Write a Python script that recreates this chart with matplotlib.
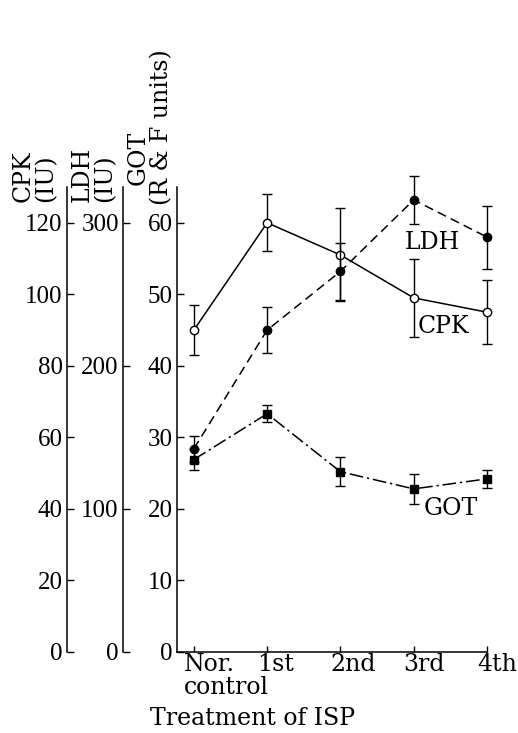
import numpy as np
import matplotlib
matplotlib.use('Agg')
import matplotlib.pyplot as plt
import matplotlib.transforms as mtransforms

# Data
cats = ['Nor.\ncontrol', '1st', '2nd', '3rd', '4th']
cpk = [90, 120, 111, 99, 95]          # IU
cpk_err = [7, 8, 13, 11, 9]
ldh = [142, 225, 266, 316, 290]       # IU
ldh_err = [9, 16, 20, 17, 22]
got = [26.9, 33.3, 25.2, 22.8, 24.2]  # R & F units
got_err = [1.5, 1.2, 2.0, 2.1, 1.3]

cpk_ticks = [0, 20, 40, 60, 80, 100, 120]
ldh_ticks = [0, 100, 200, 300]
got_ticks = [0, 10, 20, 30, 40, 50, 60]

word_font = 'DejaVu Serif'
num_font = 'Liberation Serif'
wsize = 17

W, H = 518, 733
fig = plt.figure(figsize=(W / 100, H / 100), dpi=100)

bottom = (H - 652) / H
top = (H - 187) / H
height = top - bottom
left = 177 / W
width = (487 - 177) / W

x = np.arange(len(cats))

# main (GOT) axes
ax = fig.add_axes([left, bottom, width, height])
ax.set_xlim(-0.23, 4)
ax.set_ylim(0, 65)
for s in ['top', 'right']:
    ax.spines[s].set_visible(False)
for s in ['left', 'bottom']:
    ax.spines[s].set_linewidth(1.1)
ax.set_yticks(got_ticks)
ax.set_yticklabels([str(t) for t in got_ticks], fontfamily=num_font, fontsize=18)
ax.tick_params(axis='y', direction='in', length=5, width=1, pad=3)

# first line of each category as tick label, second line (if any) as its own text
ax.set_xticks(x)
ax.set_xticklabels([c.split('\n')[0] for c in cats], fontfamily=word_font,
                   fontsize=wsize, ha='left')
ax.tick_params(axis='x', direction='in', length=4, width=1, pad=1)
offset = mtransforms.ScaledTranslation(-10 / 100, 0, fig.dpi_scale_trans)
for lab in ax.get_xticklabels():
    lab.set_transform(lab.get_transform() + offset)
xtrans = ax.get_xaxis_transform() + offset
for i, c in enumerate(cats):
    parts = c.split('\n')
    if len(parts) > 1:
        ax.text(i, -0.052, parts[1], transform=xtrans, ha='left', va='top',
                fontfamily=word_font, fontsize=wsize)

ax.set_xlabel('Treatment of ISP', fontfamily=word_font, fontsize=wsize, ha='left', va='top')
ax.xaxis.set_label_coords((150 - 177) / (487 - 177), -0.118)

ax.errorbar(x, got, yerr=got_err, color='black', lw=1.1, ls=(0, (9, 2.5, 1.5, 2.5)),
            marker='s', ms=5.5, mfc='black', mec='black', capsize=3.5, elinewidth=1,
            capthick=1, ecolor='black', clip_on=False, zorder=3)

# CPK and LDH drawn on their own scales over the same area
ax_c = ax.twinx()
ax_c.set_ylim(0, 130)
ax_c.axis('off')
ax_c.errorbar(x, cpk, yerr=cpk_err, color='black', lw=1.1, ls='-',
              marker='o', ms=6, mfc='white', mec='black', mew=1, capsize=3.5,
              elinewidth=1, capthick=1, ecolor='black', clip_on=False, zorder=4)

ax_l = ax.twinx()
ax_l.set_ylim(0, 325)
ax_l.axis('off')
ax_l.errorbar(x, ldh, yerr=ldh_err, color='black', lw=1.1, ls=(0, (6, 3.5)),
              marker='o', ms=6, mfc='black', mec='black', capsize=3.5,
              elinewidth=1, capthick=1, ecolor='black', clip_on=False, zorder=3)

ax.text(2.88, 57.2, 'LDH', fontfamily=word_font, fontsize=wsize, ha='left', va='center')
ax.text(3.06, 45.5, 'CPK', fontfamily=word_font, fontsize=wsize, ha='left', va='center')
ax.text(3.13, 20.1, 'GOT', fontfamily=word_font, fontsize=wsize, ha='left', va='center')


def side_axis(xpix, ymax, ticks):
    a = fig.add_axes([xpix / W, bottom, 1e-4, height])
    a.set_ylim(0, ymax)
    for s in ['top', 'right', 'bottom']:
        a.spines[s].set_visible(False)
    a.spines['left'].set_linewidth(1.1)
    a.set_xticks([])
    a.set_yticks(ticks)
    a.set_yticklabels([str(t) for t in ticks], fontfamily=num_font, fontsize=18)
    a.tick_params(axis='y', direction='in', length=5, width=1, pad=3)
    a.patch.set_visible(False)
    return a


side_axis(67, 130, cpk_ticks)
side_axis(123, 325, ldh_ticks)

# rotated axis titles
fig.text(12 / W, 1 - 202 / H, 'CPK\n(IU)', rotation=90, ha='left', va='bottom',
         multialignment='left', fontfamily=word_font, fontsize=wsize, linespacing=0.95)
fig.text(71 / W, 1 - 202 / H, 'LDH\n(IU)', rotation=90, ha='left', va='bottom',
         multialignment='left', fontfamily=word_font, fontsize=wsize, linespacing=0.95)
fig.text(127 / W, 1 - 185 / H, 'GOT', rotation=90, ha='left', va='bottom',
         fontfamily=word_font, fontsize=wsize)
fig.text(150 / W, 1 - 205 / H, '(R & F units)', rotation=90, ha='left', va='bottom',
         fontfamily=word_font, fontsize=wsize)

fig.savefig('out.png', dpi=100)
